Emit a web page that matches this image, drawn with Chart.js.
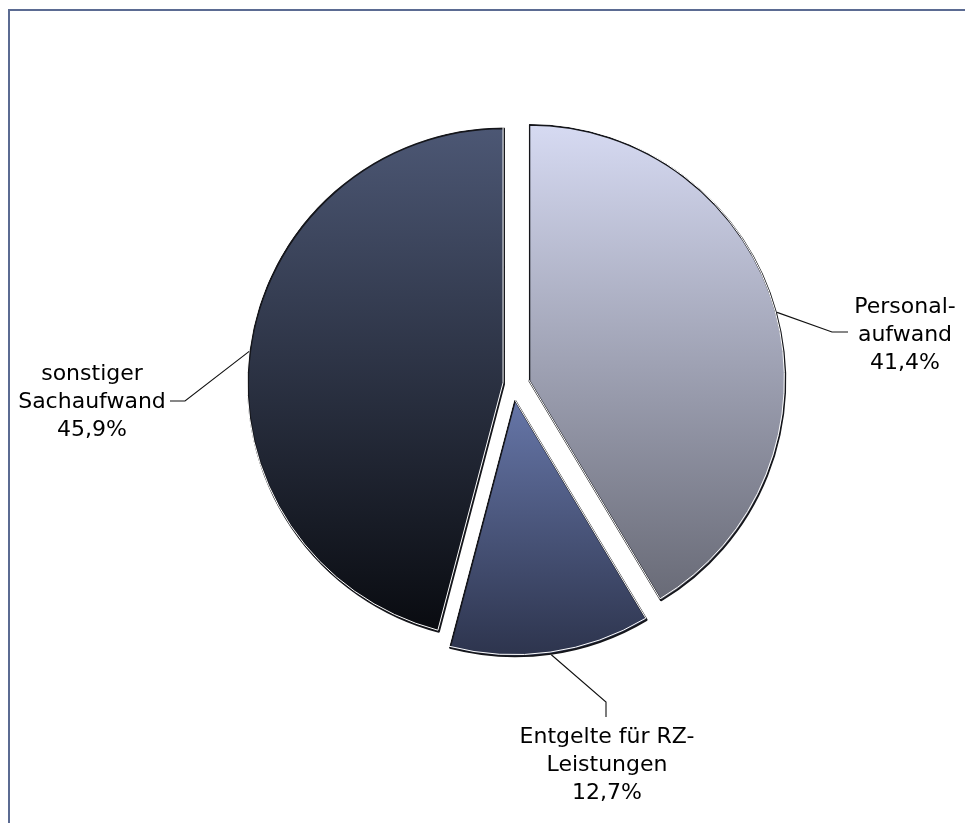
<!DOCTYPE html>
<html>
<head>
<meta charset="utf-8">
<title>Aufwandsstruktur</title>
<script src="https://cdn.jsdelivr.net/npm/chart.js@4/dist/chart.umd.min.js"></script>
<style>
  html, body { margin: 0; padding: 0; background: #fff; overflow: hidden; }
  #rahmen {
    position: absolute; left: 8px; top: 9px; width: 1000px; height: 900px;
    border-top: 2px solid #5b6b92; border-left: 2px solid #5b6b92;
  }
  #wrap { position: absolute; left: 0; top: 0; width: 965px; height: 823px; }
</style>
</head>
<body>
<div id="rahmen"></div>
<div id="wrap"><canvas id="kuchen"></canvas></div>
<script>
// Anteile der Aufwandsarten
var kategorien = [["Personal-", "aufwand"], ["Entgelte für RZ-", "Leistungen"], ["sonstiger", "Sachaufwand"]];
var anteile = [41.4, 12.7, 45.9];

// Farbverlauf je Segment (oben -> unten) und Herausrücken in px
var farbeOben = ["#d6daf2", "#6676a8", "#4c5774"];
var farbeUnten = ["#686a76", "#2d344d", "#090b10"];
var herausruecken = [17, 15, 9];

// Beschriftungen: Knick der Führungslinie, Ende, Textmitte und erste Grundlinie
var beschriftung = [
  { knick: [832, 332], ende: [848, 332], x: 905, y: 313 },
  { knick: [606, 702], ende: [606, 717], x: 607, y: 743 },
  { knick: [185, 401], ende: [170, 401], x: 92, y: 380 }
];
var zeilenAbstand = 28;

function verlauf(ctx, arc, i) {
  var minY = arc.y, maxY = arc.y;
  for (var k = 0; k <= 60; k++) {
    var a = arc.startAngle + (arc.endAngle - arc.startAngle) * k / 60;
    var y = arc.y + Math.sin(a) * arc.outerRadius;
    minY = Math.min(minY, y);
    maxY = Math.max(maxY, y);
  }
  var g = ctx.createLinearGradient(0, minY, 0, maxY);
  g.addColorStop(0, farbeOben[i]);
  g.addColorStop(1, farbeUnten[i]);
  return g;
}

var explodiert = {
  id: "explodiert",
  beforeDatasetDraw: function(chart, args) {
    var ctx = chart.ctx;
    args.meta.data.forEach(function(arc, i) {
      var mitte = (arc.startAngle + arc.endAngle) / 2;
      var opt = arc.options;
      ctx.save();
      ctx.translate(Math.cos(mitte) * herausruecken[i], Math.sin(mitte) * herausruecken[i]);
      opt.backgroundColor = verlauf(ctx, arc, i);
      opt.borderColor = "#15161b";
      opt.borderWidth = 1.8;
      arc.draw(ctx);
      // helle Innenkante unten/rechts
      var fuellung = opt.backgroundColor;
      ctx.translate(-1, -1.7);
      opt.backgroundColor = "rgba(0,0,0,0)";
      opt.borderColor = "#ffffff";
      opt.borderWidth = 1;
      arc.draw(ctx);
      opt.backgroundColor = fuellung;
      opt.borderColor = "#15161b";
      opt.borderWidth = 1.8;
      ctx.restore();
    });
    return false;
  },
  afterDatasetsDraw: function(chart) {
    var ctx = chart.ctx;
    var arcs = chart.getDatasetMeta(0).data;
    ctx.save();
    arcs.forEach(function(arc, i) {
      var mitte = (arc.startAngle + arc.endAngle) / 2;
      var cx = arc.x + Math.cos(mitte) * herausruecken[i];
      var cy = arc.y + Math.sin(mitte) * herausruecken[i];
      var sx = cx + Math.cos(mitte) * (arc.outerRadius + 1);
      var sy = cy + Math.sin(mitte) * (arc.outerRadius + 1);
      var b = beschriftung[i];
      ctx.strokeStyle = "#111111";
      ctx.lineWidth = 1.1;
      ctx.beginPath();
      ctx.moveTo(sx, sy);
      ctx.lineTo(b.knick[0], b.knick[1]);
      ctx.lineTo(b.ende[0], b.ende[1]);
      ctx.stroke();

      var zeilen = kategorien[i].concat([anteile[i].toFixed(1).replace(".", ",") + "%"]);
      ctx.fillStyle = "#000000";
      ctx.font = "22px 'DejaVu Sans', Verdana, sans-serif";
      ctx.textAlign = "center";
      ctx.textBaseline = "alphabetic";
      zeilen.forEach(function(z, k) {
        ctx.fillText(z, b.x, b.y + k * zeilenAbstand);
      });
    });
    ctx.restore();
  }
};

new Chart(document.getElementById("kuchen"), {
  type: "pie",
  data: {
    labels: kategorien.map(function(k) { return k.join(" "); }),
    datasets: [{
      data: anteile,
      backgroundColor: ["#9a9db4", "#47527a", "#252b3c"],
      borderColor: ["#15161b", "#15161b", "#15161b"],
      borderWidth: 1.8
    }]
  },
  options: {
    responsive: true,
    maintainAspectRatio: false,
    animation: false,
    radius: 256,
    layout: { padding: { left: 100, right: 39, top: 100, bottom: 152 } },
    plugins: {
      legend: { display: false },
      tooltip: { enabled: false }
    }
  },
  plugins: [explodiert]
});
</script>
</body>
</html>
